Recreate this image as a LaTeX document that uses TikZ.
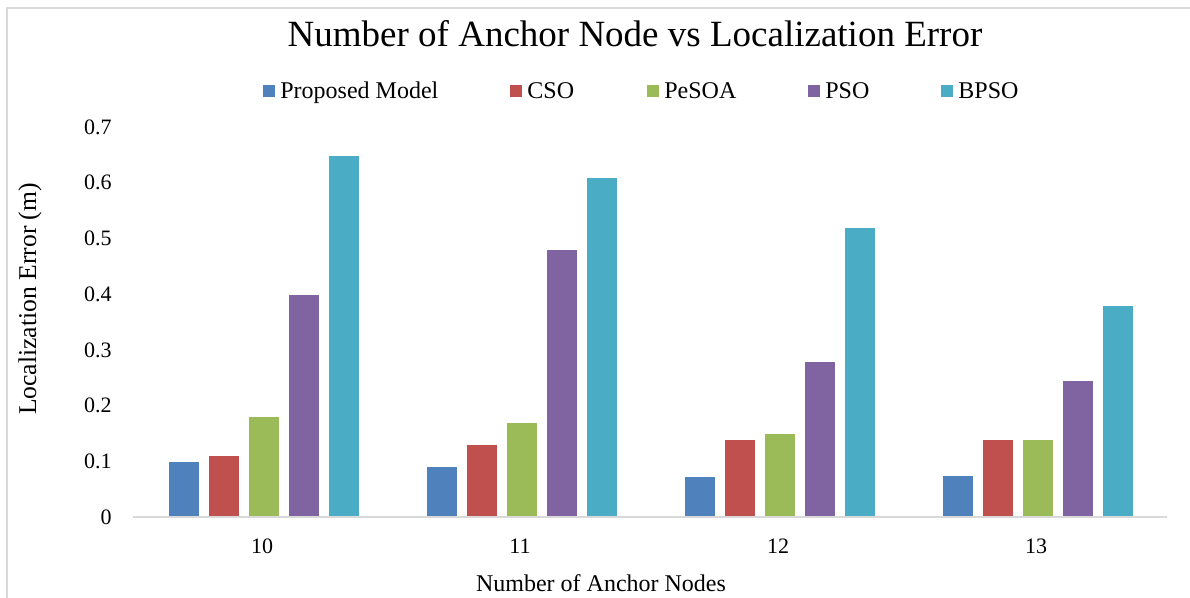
\documentclass[tikz,border=0pt]{standalone}
\usepackage{fontspec}
\setmainfont{Liberation Serif}
\usetikzlibrary{positioning}

\definecolor{cProp}{HTML}{4F81BD}
\definecolor{cCSO}{HTML}{C0504D}
\definecolor{cPeSOA}{HTML}{9BBB59}
\definecolor{cPSO}{HTML}{8064A2}
\definecolor{cBPSO}{HTML}{4BACC6}
\definecolor{frame}{HTML}{D9D9D9}

\begin{document}
\begin{tikzpicture}[x=0.5pt, y=-0.5pt,
    bar/.style={draw=white, line width=0.4pt},
    axisline/.style={draw=frame, line width=1pt},
    ticklab/.style={font=\fontsize{11}{13}\selectfont, inner sep=0pt},
    legtext/.style={font=\fontsize{12}{14}\selectfont, inner sep=0pt, anchor=base west},
    axtitle/.style={font=\fontsize{12}{14}\selectfont, inner sep=0pt, anchor=base}
  ]
  \useasboundingbox (0,0) rectangle (1190,598);

  % chart frame
  \draw[frame, line width=0.75pt] (7,8) rectangle (1200,610);

  % title
  \node[font=\fontsize{18.5}{22}\selectfont, inner sep=0pt, anchor=base] (title) at (635,47)
    {Number of Anchor Node vs Localization Error};

  % legend
  \foreach \col/\name/\xs in {cProp/Proposed Model/263, cCSO/CSO/510,
                              cPeSOA/PeSOA/647, cPSO/PSO/808, cBPSO/BPSO/941} {
    \fill[\col] (\xs,85) rectangle ++(12,12);
    \node[legtext] (leg-\name) at (\xs+17,99) {\name};
  }

  % y ticks
  \foreach \t/\txt in {0/0, 1/0.1, 2/0.2, 3/0.3, 4/0.4, 5/0.5, 6/0.6, 7/0.7}
    \node[ticklab, anchor=east] (y\t) at (112,{517-55.7*\t}) {\txt};

  % bars
  \foreach \g/\lab/\va/\vb/\vc/\vd/\ve in {0/10/0.10/0.11/0.18/0.40/0.65,
                                          1/11/0.09/0.13/0.17/0.48/0.61,
                                          2/12/0.072/0.14/0.15/0.28/0.52,
                                          3/13/0.074/0.14/0.14/0.246/0.38} {
    \foreach \col/\v [count=\i from 0] in {cProp/\va, cCSO/\vb, cPeSOA/\vc, cPSO/\vd, cBPSO/\ve}
      \filldraw[bar, fill=\col] ({168+258*\g+40*\i},517) rectangle ++(31,{-557*\v});
    \node[ticklab] (x\lab) at ({262+258*\g},546) {\lab};
  }

  % x axis
  \draw[axisline] (133,517) -- (1167,517);

  % axis titles
  \node[axtitle] (xtitle) at (601,592) {Number of Anchor Nodes};
  \node[axtitle, rotate=90, font=\fontsize{12.8}{15}\selectfont] (ytitle) at (36,299)
    {Localization Error (m)};
\end{tikzpicture}
\end{document}
